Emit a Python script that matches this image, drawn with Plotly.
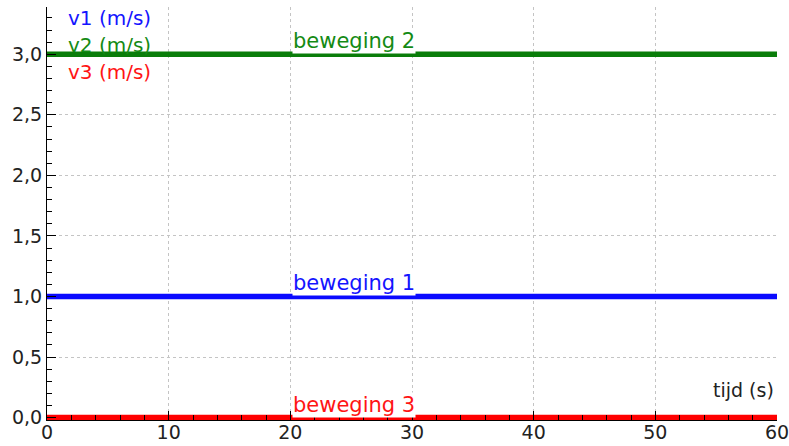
import plotly.graph_objects as go

# Data
tijd = [0, 10, 20, 30, 40, 50, 60]
v1 = [1.0, 1.0, 1.0, 1.0, 1.0, 1.0, 1.0]
v2 = [3.0, 3.0, 3.0, 3.0, 3.0, 3.0, 3.0]
v3 = [0.0, 0.0, 0.0, 0.0, 0.0, 0.0, 0.0]
series_names = ["v1 (m/s)", "v2 (m/s)", "v3 (m/s)"]
motion_labels = ["beweging 1", "beweging 2", "beweging 3"]
x_title = "tijd (s)"

colors = ["#0a0aff", "#0a7d0a", "#ff0000"]
text_colors = ["#1414ff", "#148a14", "#ff1414"]
FONT = "DejaVu Sans"

fig = go.Figure()
for vals, name, c in zip([v1, v2, v3], series_names, colors):
    fig.add_trace(go.Scatter(x=tijd, y=vals, mode="lines", name=name,
                             line=dict(color=c, width=5.5), showlegend=False))

# motion labels on the lines
for vals, lab, c in zip([v1, v2, v3], motion_labels, text_colors):
    fig.add_annotation(x=25.2, y=vals[0], xref="x", yref="y", text=lab,
                       showarrow=False, yanchor="bottom", xanchor="center",
                       bgcolor="white", borderpad=0,
                       font=dict(family=FONT, size=21, color=c))

# axis titles (top-left)
for name, c, yp in zip(series_names, text_colors, [0.973, 0.908, 0.843]):
    fig.add_annotation(x=0.026, y=yp, xref="paper", yref="paper", text=name,
                       showarrow=False, xanchor="left", yanchor="middle",
                       font=dict(family=FONT, size=20, color=c))

fig.add_annotation(x=0.9986, y=0.073, xref="paper", yref="paper", text=x_title,
                   showarrow=False, xanchor="right", yanchor="middle",
                   font=dict(family=FONT, size=19, color="#222222"))

fig.update_layout(
    width=789, height=446,
    margin=dict(l=47, r=12, t=7, b=26, autoexpand=False),
    paper_bgcolor="white", plot_bgcolor="white",
    separators=",.",
    font=dict(family=FONT, size=19, color="#222222"),
)
fig.update_xaxes(
    range=[0, 60], dtick=10, tick0=0, automargin=False, ticklabeloverflow="allow",
    ticklabelstandoff=-5,
    showline=True, linecolor="black", linewidth=1,
    ticks="inside", ticklen=9, tickcolor="black", tickwidth=1,
    showgrid=True, gridcolor="#c4c4c4", griddash="dot", gridwidth=1,
    zeroline=False,
    minor=dict(dtick=2, ticks="inside", ticklen=5, tickcolor="black", showgrid=False),
    tickfont=dict(family=FONT, size=19, color="#222222"),
)
fig.update_yaxes(
    range=[-0.02, 3.39], dtick=0.5, tick0=0, tickformat=".1f", automargin=False,
    ticklabeloverflow="allow",
    showline=True, linecolor="black", linewidth=1,
    ticks="inside", ticklen=9, tickcolor="black", tickwidth=1,
    showgrid=True, gridcolor="#c4c4c4", griddash="dot", gridwidth=1,
    zeroline=False,
    minor=dict(dtick=0.1, ticks="inside", ticklen=5, tickcolor="black", showgrid=False),
    tickfont=dict(family=FONT, size=19, color="#222222"),
)

fig.write_html("out.html", config={"displayModeBar": False},
               post_script="document.body.style.margin='0';document.body.style.overflow='hidden';")
